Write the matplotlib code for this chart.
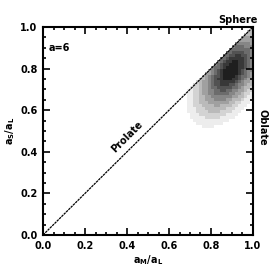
import numpy as np
import matplotlib
matplotlib.use("Agg")
import matplotlib.pyplot as plt
from matplotlib.colors import ListedColormap

# density blob description
blob_center = [0.895, 0.79]    # (a_M/a_L, a_S/a_L) of peak
blob_sigma = [0.115, 0.062]    # major, minor spread
blob_angle_deg = 58.0          # orientation of major axis
density_levels = [0.03, 0.08, 0.15, 0.25, 0.37, 0.5, 0.63, 0.76, 0.88]

xticks = [0.0, 0.2, 0.4, 0.6, 0.8, 1.0]
yticks = [0.0, 0.2, 0.4, 0.6, 0.8, 1.0]
diag_x = [0.0, 1.0]
diag_y = [0.0, 1.0]

fig = plt.figure(figsize=(2.74, 2.74), dpi=100)
ax = fig.add_axes([43/274, 39/274, 210/274, 208/274])

n = 70
gx = (np.arange(n) + 0.5) / n
X, Y = np.meshgrid(gx, gx)
th = np.deg2rad(blob_angle_deg)
dx = X - blob_center[0]
dy = Y - blob_center[1]
u = dx*np.cos(th) + dy*np.sin(th)
v = -dx*np.sin(th) + dy*np.cos(th)
Z = np.exp(-0.5*((u/blob_sigma[0])**2 + (v/blob_sigma[1])**2))
Z = np.where(Y <= X, Z, np.nan)
Zq = np.full_like(Z, np.nan)
for i, lv in enumerate(density_levels):
    Zq[(Z >= lv)] = i
grays = np.linspace(0.93, 0.12, len(density_levels))
cmap = ListedColormap([(g, g, g) for g in grays])
edges = np.linspace(0, 1, n + 1)
Zq = np.ma.masked_invalid(Zq)
ax.pcolormesh(edges, edges, Zq, cmap=cmap, vmin=-0.5, vmax=len(density_levels) - 0.5, shading="flat")

ax.plot(diag_x, diag_y, color="black", lw=0.9, linestyle=(0, (2, 0.6)))

ax.set_xlim(0, 1)
ax.set_ylim(0, 1)
ax.set_xticks(xticks)
ax.set_yticks(yticks)
ax.set_xticklabels([f"{t:.1f}" for t in xticks])
ax.set_yticklabels([f"{t:.1f}" for t in yticks])
ax.xaxis.set_minor_locator(matplotlib.ticker.MultipleLocator(0.05))
ax.yaxis.set_minor_locator(matplotlib.ticker.MultipleLocator(0.05))
ax.tick_params(which="both", direction="in", top=True, right=True, width=1.2, labelsize=7, pad=4)
ax.tick_params(which="major", length=5)
ax.tick_params(which="minor", length=2.5)
for lab in ax.get_xticklabels() + ax.get_yticklabels():
    lab.set_fontweight("bold")
for s in ax.spines.values():
    s.set_linewidth(1.5)

ax.set_xlabel(r"$\mathbf{a_M/a_L}$", fontsize=7, labelpad=2)
ax.set_ylabel(r"$\mathbf{a_S/a_L}$", fontsize=7, labelpad=2)

ax.text(0.025, 0.90, "a=6", fontsize=7, fontweight="bold", ha="left", va="center")
ax.text(0.40, 0.47, "Prolate", fontsize=7, fontweight="bold", rotation=45, ha="center", va="center")
ax.text(0.93, 1.01, "Sphere", fontsize=7, fontweight="bold", ha="center", va="bottom")
ax.text(1.02, 0.52, "Oblate", fontsize=7, fontweight="bold", rotation=-90, ha="left", va="center",
        transform=ax.transAxes)

fig.savefig("out.png", dpi=100)
